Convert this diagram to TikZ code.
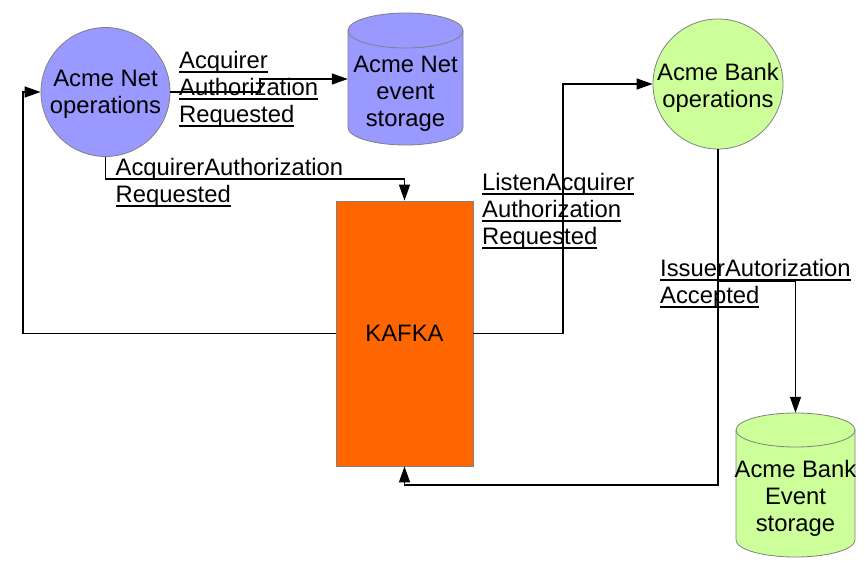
\documentclass[tikz,border=0pt]{standalone}
\usepackage{fontspec}
\setmainfont{Liberation Sans}
\usetikzlibrary{arrows.meta}
\definecolor{netblue}{HTML}{9999FF}
\definecolor{bankgreen}{HTML}{CCFF99}
\definecolor{kafkaorange}{HTML}{FF6600}
\definecolor{bordergray}{HTML}{808080}
\newsavebox\ulbox
\newcommand\uln[1]{\sbox\ulbox{#1}\rlap{\rule[-5pt]{\wd\ulbox}{2pt}}\usebox\ulbox}
\newcommand\dbcyl[6]{%
  \filldraw[fill=#6, draw=bordergray, line width=0.8pt]
    (#1-#4,#2+#5) -- (#1-#4,#3-#5)
    arc[start angle=180,end angle=0,x radius=#4,y radius=#5]
    -- (#1+#4,#2+#5)
    arc[start angle=0,end angle=-180,x radius=#4,y radius=#5] -- cycle;
  \draw[bordergray, line width=0.8pt] (#1-#4,#2+#5)
    arc[start angle=180,end angle=0,x radius=#4,y radius=#5];}
\begin{document}
\begin{tikzpicture}[x=1pt,y=-1pt,
  txt/.style={font=\fontsize{23.8}{27}\selectfont},
  lbl/.style={txt, align=left, anchor=north west, inner sep=0},
  ctext/.style={txt, align=center, inner sep=0},
  opcircle/.style={circle, draw=bordergray, line width=0.8pt, inner sep=0},
  conn/.style={line width=1.3pt, -{Triangle[length=16pt,width=11pt]}},
  plain/.style={line width=1.3pt}]
\useasboundingbox (0,0) rectangle (865,568);

% storages
\dbcyl{405.5}{13}{145}{57.5}{17.5}{netblue}
\node[inner sep=0, minimum width=115, minimum height=132] (netdb) at (405.5,79) {};
\node[ctext] (netdbtxt) at (405.5,94) {Acme Net\\event\\storage};

\dbcyl{795.5}{413}{557}{59.5}{17}{bankgreen}
\node[inner sep=0, minimum width=119, minimum height=144] (bankdb) at (795.5,485) {};
\node[ctext] (bankdbtxt) at (795.5,498) {Acme Bank\\Event\\storage};

% operations
\node[opcircle, fill=netblue, minimum size=129] (net) at (105.5,92) {};
\node[ctext] (nettxt) at (105.5,94.5) {Acme Net\\operations};
\node[opcircle, fill=bankgreen, minimum size=130] (bank) at (718,84) {};
\node[ctext] (banktxt) at (718,87.5) {Acme Bank\\operations};

% kafka
\node[draw=bordergray, line width=0.8pt, fill=kafkaorange, minimum width=137, minimum height=265, inner sep=0, txt] (kafka) at (404.5,333.5) {KAFKA};

% connectors
\draw[conn] (net.east) -- (260,92) |- (netdb.west);
\draw[conn] (net.south) -- ++(0,22) -| (kafka.north);
\draw[conn] (kafka.west) -- (23,333.5) |- (net.west);
\draw[conn] (kafka.east) -- (563,333.5) |- (bank.west);
\draw[conn] (bank.south) -- (718,485) -| (kafka.south);
\draw[conn] (bank.south) -- (718,281) -| (bankdb.north);

% labels
\node[lbl] (l1) at (179,51) {\uln{Acquirer}\\\uln{Authorization}\\\uln{Requested}};
\node[lbl] (l2) at (115.5,158) {\uln{AcquirerAuthorization}\\\uln{Requested}};
\node[lbl] (l3) at (482,173) {\uln{ListenAcquirer}\\\uln{Authorization}\\\uln{Requested}};
\node[lbl] (l4) at (660,259) {\uln{IssuerAutorization}\\\uln{Accepted}};
\end{tikzpicture}
\end{document}
